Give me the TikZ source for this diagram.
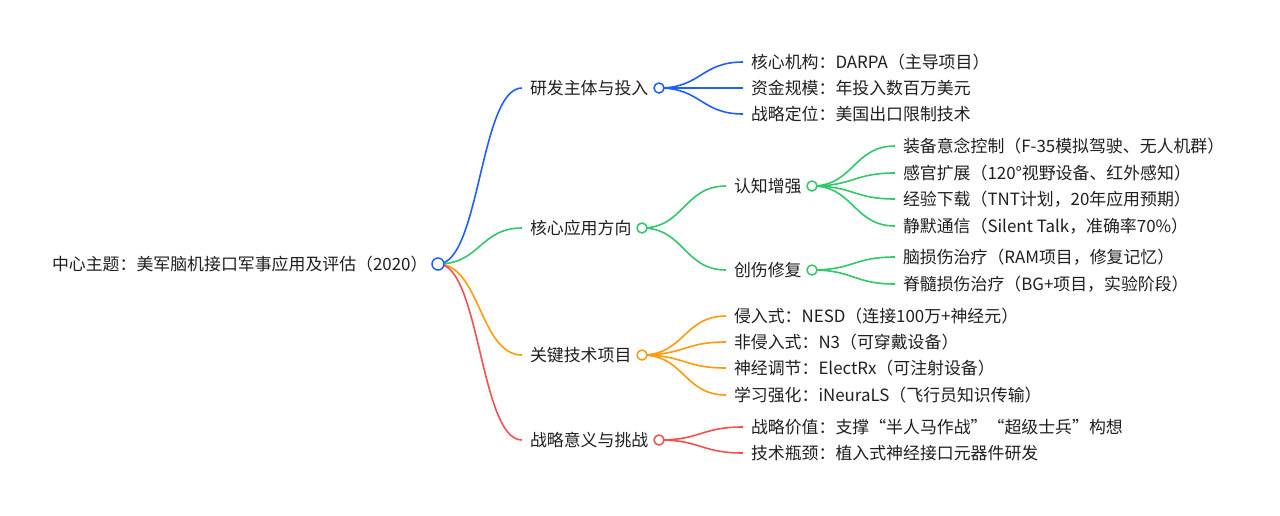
\documentclass[tikz,border=0pt]{standalone}
\usepackage{fontspec}
\setmainfont{Noto Sans CJK SC}
\usetikzlibrary{calc,backgrounds}
\definecolor{mblue}{HTML}{1F5EFF}
\definecolor{mgreen}{HTML}{33C76C}
\definecolor{morange}{HTML}{FF9A0A}
\definecolor{mred}{HTML}{F5504F}
\tikzset{
  topic/.style={anchor=west, inner xsep=8pt, inner ysep=0pt, outer sep=0pt,
    text height=14.5pt, text depth=2pt, text=black!88,
    font=\fontsize{16.9}{20}\selectfont},
  knob/.style={circle, draw=#1, fill=white, line width=1.5pt, inner sep=0pt,
    minimum size=10pt},
  branch/.style={draw=#1, line width=1.6pt,
    to path={let \p1=(\tikztostart), \p2=(\tikztotarget) in
      .. controls ({(\x1+\x2)/2},\y1) and ({(\x1+\x2)/2},\y2) .. (\tikztotarget)}},
}

\begin{document}
\begin{tikzpicture}[x=1pt, y=-1pt]
    \useasboundingbox (0,0) rectangle (1280,515);
    % root
    \node[topic] (root) at (44,264) {中心主题：美军脑机接口军事应用及评估（2020）};
    \node[knob=mblue, minimum size=12pt] (rootk) at (438,264) {};
    % first level
    \node[topic] (rd) at (522,88) {研发主体与投入};
    \node[knob=mblue] (rdk) at (659,88) {};
    \node[topic] (app) at (522,228) {核心应用方向};
    \node[knob=mgreen] (appk) at (642,228) {};
    \node[topic] (tech) at (522,355) {关键技术项目};
    \node[knob=morange] (techk) at (642,355) {};
    \node[topic] (sig) at (522,440) {战略意义与挑战};
    \node[knob=mred] (sigk) at (659,440) {};
    % research body
    \node[topic] (rd1) at (743,62) {核心机构：DARPA（主导项目）};
    \node[topic] (rd2) at (743,88) {资金规模：年投入数百万美元};
    \node[topic] (rd3) at (743,114) {战略定位：美国出口限制技术};
    % applications
    \node[topic] (cog) at (726,186) {认知增强};
    \node[knob=mgreen] (cogk) at (812,186) {};
    \node[topic] (rep) at (726,270) {创伤修复};
    \node[knob=mgreen] (repk) at (812,270) {};
    \node[topic] (cog1) at (895,146) {装备意念控制（F-35模拟驾驶、无人机群）};
    \node[topic] (cog2) at (895,173) {感官扩展（120°视野设备、红外感知）};
    \node[topic] (cog3) at (895,199) {经验下载（TNT计划，20年应用预期）};
    \node[topic] (cog4) at (895,226) {静默通信（Silent Talk，准确率70\%）};
    \node[topic] (rep1) at (895,257) {脑损伤治疗（RAM项目，修复记忆）};
    \node[topic] (rep2) at (895,284) {脊髓损伤治疗（BG+项目，实验阶段）};
    % key projects
    \node[topic] (tech1) at (726,316) {侵入式：NESD（连接100万+神经元）};
    \node[topic] (tech2) at (726,342) {非侵入式：N3（可穿戴设备）};
    \node[topic] (tech3) at (726,368) {神经调节：ElectRx（可注射设备）};
    \node[topic] (tech4) at (726,395) {学习强化：iNeuraLS（飞行员知识传输）};
    % significance
    \node[topic] (sig1) at (743,427) {战略价值：支撑“半人马作战”“超级士兵”构想};
    \node[topic] (sig2) at (743,453) {技术瓶颈：植入式神经接口元器件研发};

    \begin{pgfonlayer}{background}
    \path
      (rootk.center) edge[branch=mblue] (rd.west)
      (rootk.center) edge[branch=mgreen] (app.west)
      (rootk.center) edge[branch=morange] (tech.west)
      (rootk.center) edge[branch=mred] (sig.west)
      (rdk.center) edge[branch=mblue] (rd1.west)
      (rdk.center) edge[branch=mblue] (rd2.west)
      (rdk.center) edge[branch=mblue] (rd3.west)
      (appk.center) edge[branch=mgreen] (cog.west)
      (appk.center) edge[branch=mgreen] (rep.west)
      (cogk.center) edge[branch=mgreen] (cog1.west)
      (cogk.center) edge[branch=mgreen] (cog2.west)
      (cogk.center) edge[branch=mgreen] (cog3.west)
      (cogk.center) edge[branch=mgreen] (cog4.west)
      (repk.center) edge[branch=mgreen] (rep1.west)
      (repk.center) edge[branch=mgreen] (rep2.west)
      (techk.center) edge[branch=morange] (tech1.west)
      (techk.center) edge[branch=morange] (tech2.west)
      (techk.center) edge[branch=morange] (tech3.west)
      (techk.center) edge[branch=morange] (tech4.west)
      (sigk.center) edge[branch=mred] (sig1.west)
      (sigk.center) edge[branch=mred] (sig2.west)
      ;
    \end{pgfonlayer}
\end{tikzpicture}
\end{document}
